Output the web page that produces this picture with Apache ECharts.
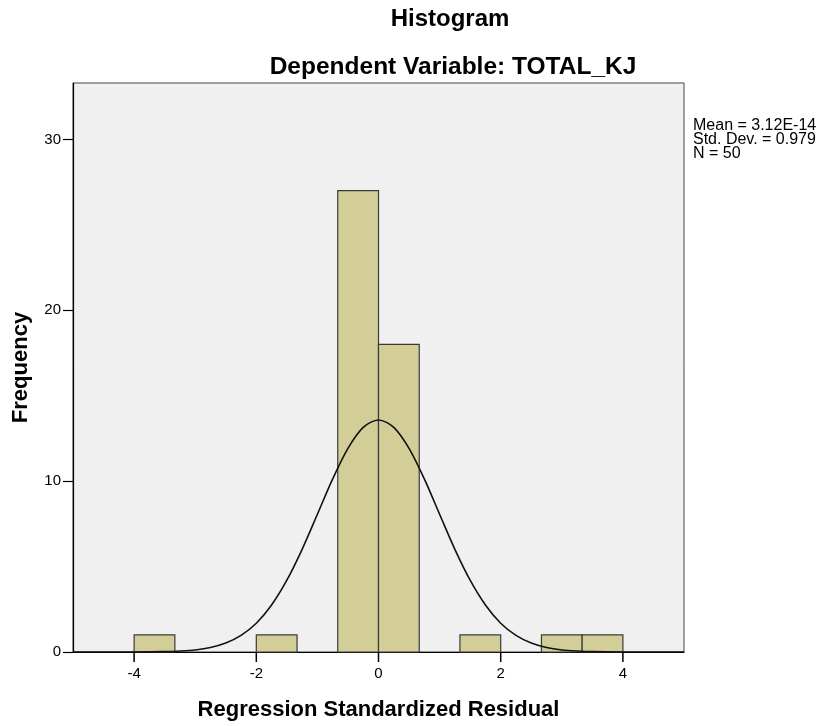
<!DOCTYPE html>
<html>
<head>
<meta charset="utf-8">
<script src="https://cdn.jsdelivr.net/npm/echarts@6/dist/echarts.min.js"></script>
<style>
html,body{margin:0;padding:0;background:#fff;}
#chart{width:819px;height:726px;}
</style>
</head>
<body>
<div id="chart"></div>
<script>
// Histogram bins (left edge, right edge) and counts
const binLeft  = [-4.000, -2.000, -0.667, 0.000, 1.333, 2.667, 3.333];
const binRight = [-3.333, -1.333, 0.000, 0.667, 2.000, 3.333, 4.000];
const counts   = [1, 1, 27, 18, 1, 1, 1];

// Normal curve
const curveX = [-5, -4, -3.5, -3.25, -3, -2.75, -2.5, -2.25, -2, -1.75, -1.5, -1.25, -1, -0.75, -0.5, -0.25, 0,
                0.25, 0.5, 0.75, 1, 1.25, 1.5, 1.75, 2, 2.25, 2.5, 2.75, 3, 3.25, 3.5, 4, 5];
const curveY = [0, 0.0003, 0.02, 0.055, 0.12, 0.26, 0.52, 0.97, 1.68, 2.75, 4.20, 6.01, 8.06, 10.13, 11.92, 13.15, 13.58,
                13.15, 11.92, 10.13, 8.06, 6.01, 4.20, 2.75, 1.68, 0.97, 0.52, 0.26, 0.12, 0.055, 0.02, 0.0003, 0];

const xTicks = [-4, -2, 0, 2, 4];
const yTicks = [0, 10, 20, 30];

const statsLines = ['Mean = 3.12E-14', 'Std. Dev. = 0.979', 'N = 50'];

const FONT = 'Liberation Sans';

const chart = echarts.init(document.getElementById('chart'), null, {renderer: 'canvas'});

const barData = binLeft.map((l, i) => [l, binRight[i], counts[i]]);
const lineData = curveX.map((x, i) => [x, curveY[i]]);
const xTickData = xTicks.map(v => [v, 0]);

chart.setOption({
  backgroundColor: '#ffffff',
  animation: false,
  title: [
    {text: 'Histogram', left: 445, top: 2, textAlign: 'center',
     textStyle: {fontFamily: FONT, fontWeight: 'bold', fontSize: 24, color: '#000'}},
    {text: 'Dependent Variable: TOTAL_KJ', left: 448, top: 50, textAlign: 'center',
     textStyle: {fontFamily: FONT, fontWeight: 'bold', fontSize: 24.5, color: '#000'}}
  ],
  graphic: statsLines.map((t, i) => ({
    type: 'text', left: 693, top: 118 + i * 14, z: 10,
    style: {text: t, font: 'normal 16px "Liberation Sans"', fill: '#000'}
  })),
  grid: {left: 73, right: 135, top: 83, bottom: 74, show: true, containLabel: false,
         outerBoundsMode: 'none',
         backgroundColor: '#f0f0f0', borderColor: '#444', borderWidth: 1},
  xAxis: {
    type: 'value', min: -5, max: 5,
    name: 'Regression Standardized Residual', nameLocation: 'middle', nameGap: 47,
    nameTextStyle: {fontFamily: FONT, fontWeight: 'bold', fontSize: 22, color: '#000'},
    axisLine: {show: true, onZero: false, lineStyle: {color: '#000', width: 1.2}},
    axisTick: {show: false},
    axisLabel: {customValues: xTicks, fontFamily: FONT, fontSize: 15, color: '#000', margin: 14},
    splitLine: {show: false}
  },
  yAxis: {
    type: 'value', min: 0, max: 33.3,
    name: 'Frequency', nameLocation: 'middle', nameGap: 41,
    nameTextStyle: {fontFamily: FONT, fontWeight: 'bold', fontSize: 22, color: '#000'},
    axisLine: {show: true, onZero: false, lineStyle: {color: '#000', width: 1.2}},
    axisTick: {show: true, inside: false, length: 10, customValues: yTicks, lineStyle: {color: '#000', width: 1.2}},
    axisLabel: {customValues: yTicks, fontFamily: FONT, fontSize: 15, color: '#000', margin: 12},
    splitLine: {show: false}
  },
  series: [
    {
      type: 'custom',
      data: barData,
      encode: {x: [0, 1], y: 2},
      renderItem: function (params, api) {
        const p0 = api.coord([api.value(0), 0]);
        const p1 = api.coord([api.value(1), api.value(2)]);
        return {
          type: 'rect',
          shape: {x: p0[0], y: p1[1], width: p1[0] - p0[0], height: p0[1] - p1[1]},
          style: {fill: '#d3ce98', stroke: '#3a3a3a', lineWidth: 1.2}
        };
      },
      z: 2
    },
    {
      type: 'line',
      data: lineData,
      smooth: 0.3,
      showSymbol: false,
      lineStyle: {color: '#111', width: 1.6},
      z: 3
    },
    {
      // x-axis tick marks at the labelled values
      type: 'custom',
      data: xTickData,
      encode: {x: 0, y: 1},
      clip: false,
      silent: true,
      renderItem: function (params, api) {
        const p = api.coord([api.value(0), api.value(1)]);
        return {
          type: 'line',
          shape: {x1: p[0], y1: p[1], x2: p[0], y2: p[1] + 10},
          style: {stroke: '#000', lineWidth: 1.5}
        };
      },
      z: 4
    }
  ]
});
</script>
</body>
</html>
